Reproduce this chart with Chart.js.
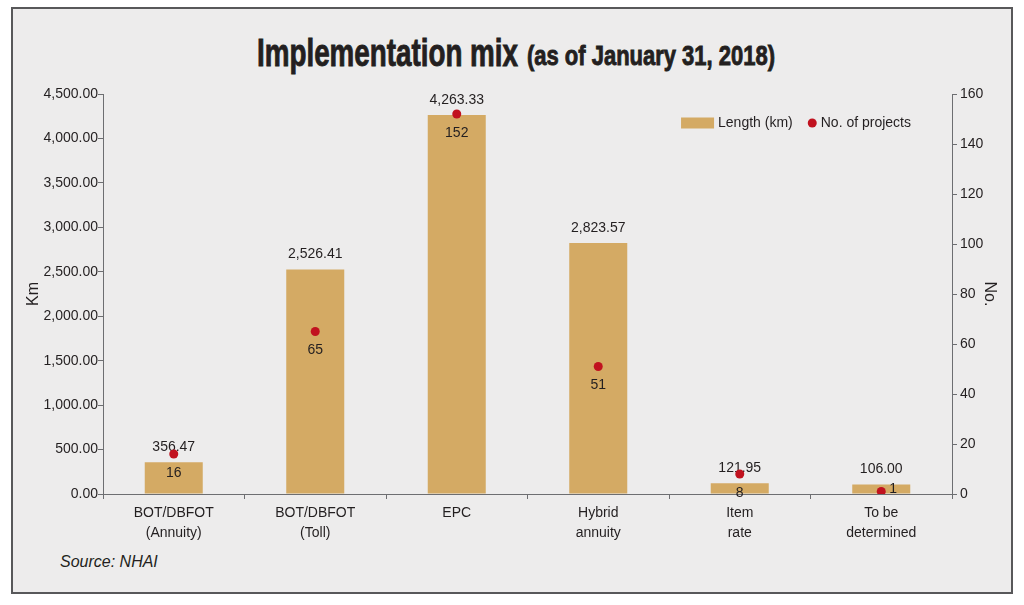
<!DOCTYPE html>
<html>
<head>
<meta charset="utf-8">
<title>Implementation mix</title>
<script src="https://cdn.jsdelivr.net/npm/chart.js@4.4.1/dist/chart.umd.min.js"></script>
<style>
  html, body { margin: 0; padding: 0; background: #ffffff; }
  body { width: 1024px; height: 605px; position: relative; overflow: hidden;
         font-family: "Liberation Sans", Arial, sans-serif; color: #231f20; }
  #frame { position: absolute; left: 11px; top: 7px; width: 1002px; height: 587px;
           box-sizing: border-box; border: 2px solid #58585a; background: #edecec; }
  .ttl { position: absolute; font-weight: bold; white-space: nowrap; line-height: 1;
         transform-origin: left center; -webkit-text-stroke: 0.9px #231f20; }
  #titleMain { left: 257px; top: 33px; font-size: 39px; }
  #titleSub { left: 527px; top: 42px; font-size: 28px; }
  #source { position: absolute; left: 60px; top: 554px; font-size: 16px; line-height: 1; font-style: italic; }
  #chart { position: absolute; left: 0; top: 0; }
</style>
</head>
<body>
<div id="frame"></div>
<div id="titleMain" class="ttl">Implementation mix</div>
<div id="titleSub" class="ttl">(as of January 31, 2018)</div>
<div id="source">Source: NHAI</div>
<canvas id="chart" width="1024" height="605"></canvas>
<script>
const categories = [
  ["BOT/DBFOT", "(Annuity)"],
  ["BOT/DBFOT", "(Toll)"],
  "EPC",
  ["Hybrid", "annuity"],
  ["Item", "rate"],
  ["To be", "determined"]
];
const lengthKm = [356.47, 2526.41, 4263.33, 2823.57, 121.95, 106.00];
const projectCount = [16, 65, 152, 51, 8, 1];
const kmRange = [0, 4500];
const kmStep = 500;
const countRange = [0, 160];
const countStep = 20;

const FONT = '"Liberation Sans", Arial, sans-serif';
const TEXT = "#231f20";
const AXIS = "#6d6e71";
const BAR = "#d4aa64";
const DOT = "#c1121f";

// squeeze the heavy title lines to the width of the condensed face
[["titleMain", 261], ["titleSub", 248]].forEach(([id, w]) => {
  const el = document.getElementById(id);
  el.style.transform = `scaleX(${w / el.getBoundingClientRect().width})`;
});

const fmtKm = (v) => Number(v).toLocaleString("en-US", { minimumFractionDigits: 2, maximumFractionDigits: 2 });

// value labels: drawn right after the bars so the dots sit on top
const valueLabels = {
  id: "valueLabels",
  afterDatasetDraw(chart, args) {
    if (args.index !== 0) return;
    const { ctx, chartArea } = chart;
    ctx.save();
    ctx.font = `14px ${FONT}`;
    ctx.fillStyle = TEXT;
    ctx.textBaseline = "middle";
    chart.getDatasetMeta(0).data.forEach((bar, i) => {
      ctx.textAlign = "center";
      ctx.fillText(fmtKm(lengthKm[i]), bar.x, bar.y - 15);
    });
    chart.getDatasetMeta(1).data.forEach((pt, i) => {
      const below = pt.y + 19;
      if (below > chartArea.bottom + 5) {
        ctx.textAlign = "left";
        ctx.fillText(String(projectCount[i]), pt.x + 8, pt.y - 2);
      } else {
        ctx.textAlign = "center";
        ctx.fillText(String(projectCount[i]), pt.x, below);
      }
    });
    ctx.restore();
  }
};

// legend in the top right corner of the plot area
const cornerLegend = {
  id: "cornerLegend",
  afterDraw(chart) {
    const { ctx, chartArea } = chart;
    const [barSet, dotSet] = chart.data.datasets;
    ctx.save();
    ctx.font = `14px ${FONT}`;
    ctx.fillStyle = TEXT;
    ctx.textBaseline = "middle";
    ctx.textAlign = "left";
    const y = chartArea.top + 29;
    const end = chartArea.right - 41;
    const w2 = ctx.measureText(dotSet.label).width;
    const w1 = ctx.measureText(barSet.label).width;
    const x2 = end - w2;
    const dotX = x2 - 8.5;
    const x1 = dotX - 19.5 - w1;
    const boxR = x1 - 4;
    ctx.fillText(dotSet.label, x2, y);
    ctx.fillText(barSet.label, x1, y);
    ctx.fillStyle = barSet.backgroundColor;
    ctx.fillRect(boxR - 33, y - 5.5, 33, 11);
    ctx.fillStyle = dotSet.backgroundColor;
    ctx.beginPath();
    ctx.arc(dotX, y, 4.5, 0, Math.PI * 2);
    ctx.fill();
    ctx.restore();
  }
};

const tickFont = { size: 14, family: FONT };
const titleFont = { size: 16, family: FONT };

new Chart(document.getElementById("chart"), {
  type: "bar",
  data: {
    labels: categories,
    datasets: [
      {
        label: "Length (km)",
        data: lengthKm,
        backgroundColor: BAR,
        borderWidth: 0,
        categoryPercentage: 1,
        barPercentage: 0.41,
        yAxisID: "y",
        order: 1
      },
      {
        type: "line",
        label: "No. of projects",
        data: projectCount,
        showLine: false,
        backgroundColor: DOT,
        borderColor: DOT,
        pointRadius: 4.5,
        pointBorderWidth: 0,
        yAxisID: "y1",
        order: 0
      }
    ]
  },
  options: {
    responsive: false,
    animation: false,
    layout: { padding: { left: 20, right: 20, top: 94, bottom: 61 } },
    plugins: {
      legend: { display: false },
      tooltip: { enabled: false }
    },
    scales: {
      x: {
        ticks: { color: TEXT, font: { ...tickFont, lineHeight: 1.43 }, padding: 4, maxRotation: 0, autoSkip: false },
        grid: { drawOnChartArea: false, tickLength: 5, color: AXIS },
        border: { color: AXIS },
        afterFit: (s) => { s.height = 50; }
      },
      y: {
        position: "left",
        min: kmRange[0],
        max: kmRange[1],
        ticks: { stepSize: kmStep, color: TEXT, font: tickFont, padding: 0, callback: (v) => fmtKm(v) },
        grid: { drawOnChartArea: false, tickLength: 5, color: AXIS },
        border: { color: AXIS },
        title: { display: true, text: "Km", color: TEXT, font: titleFont, padding: { top: 4, bottom: 0 } },
        afterFit: (s) => { s.width = 83; }
      },
      y1: {
        position: "right",
        min: countRange[0],
        max: countRange[1],
        ticks: { stepSize: countStep, color: TEXT, font: tickFont, padding: 3 },
        grid: { drawOnChartArea: false, tickLength: 5, color: AXIS },
        border: { color: AXIS },
        title: { display: true, text: "No.", color: TEXT, font: titleFont, padding: { top: 5, bottom: 0 } },
        afterFit: (s) => { s.width = 52; }
      }
    }
  },
  plugins: [valueLabels, cornerLegend]
});
</script>
</body>
</html>
